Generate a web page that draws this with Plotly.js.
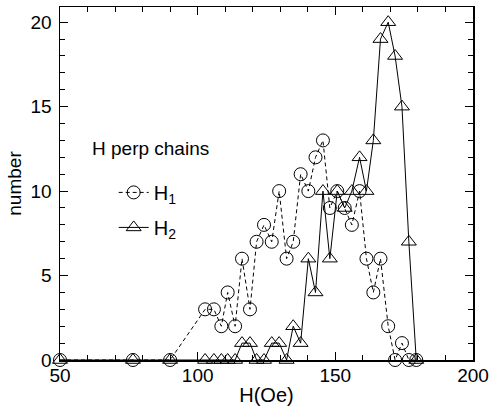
<!DOCTYPE html>
<html>
<head>
<meta charset="utf-8">
<script src="https://cdn.plot.ly/plotly-3.0.1.min.js"></script>
<style>html,body{margin:0;padding:0;background:#fff;}#chart{width:492px;height:407px;}</style>
</head>
<body>
<div id="chart"></div>
<script>
// Magnetic field H (Oe)
const hField = [50, 76.5, 90, 102.7, 105.9, 108.6, 110.9, 113.6, 116.1, 119, 121.4, 124.1, 126.9, 129.6, 132.3, 134.7, 137.4, 140.2, 142.8, 145.5, 148, 150.7, 153.4, 156, 158.8, 161.3, 163.8, 166.4, 169.2, 171.7, 174.2, 176.7, 179.4];
// H1 counts (circles, dashed)
const h1Counts = [0, 0, 0, 3, 3, 2, 4, 2, 6, 3, 7, 8, 7, 10, 6, 7, 11, 10, 12, 13, 9, 10, 9, 8, 10, 6, 4, 6, 2, 0, 1, 0, 0];
// H2 counts (triangles, solid)
const h2Counts = [0, 0, 0, 0, 0, 0, 0, 0, 1, 1, 0, 0, 1, 1, 0, 2, 1, 6, 4, 10, 6, 10, 9, 10, 12, 10, 13, 19, 20, 18, 15, 7, 0];

const xTicks = [50, 100, 150, 200];
const yTicks = [0, 5, 10, 15, 20];

const fontFam = 'Liberation Sans, Arial, sans-serif';

const traces = [
  {
    x: hField, y: h1Counts, name: 'H<sub>1</sub>', type: 'scatter', mode: 'lines+markers',
    legendgroup: 'g1',
    line: {color: '#000', width: 1, dash: '4px,3px'},
    marker: {symbol: 'circle-open', size: 13, color: '#000', line: {width: 1, color: '#000'}},
    cliponaxis: false
  },
  {
    x: hField, y: h2Counts, name: 'H<sub>2</sub>', type: 'scatter', mode: 'lines+markers',
    legendgroup: 'g2',
    line: {color: '#000', width: 1},
    marker: {symbol: 'triangle-up-open', size: 13, color: '#000', line: {width: 1, color: '#000'}},
    cliponaxis: false
  }
];

const layout = {
  width: 492, height: 407,
  margin: {l: 60, r: 19, t: 7, b: 47},
  paper_bgcolor: '#fff', plot_bgcolor: '#fff',
  font: {family: fontFam, color: '#000', size: 18},
  showlegend: true,
  legend: {x: 0.13, y: 0.53, xanchor: 'left', yanchor: 'top', bgcolor: 'rgba(0,0,0,0)', font: {size: 20, family: fontFam}, tracegroupgap: 6},
  xaxis: {
    range: [50, 200], tickvals: xTicks, ticktext: xTicks.map(String),
    ticks: 'inside', ticklen: 8, tickwidth: 1, tickcolor: '#000',
    minor: {dtick: 10, ticks: 'inside', ticklen: 5, tickwidth: 1, tickcolor: '#000'},
    showline: true, linecolor: '#000', linewidth: 1.5, mirror: 'ticks',
    showgrid: false, zeroline: false,
    tickfont: {size: 19}, ticklabelstandoff: -2,
    title: {text: 'H(Oe)', font: {size: 20}, standoff: 2}
  },
  yaxis: {
    range: [0, 20.9], tickvals: yTicks, ticktext: yTicks.map(String),
    ticks: 'inside', ticklen: 8, tickwidth: 1, tickcolor: '#000',
    minor: {dtick: 1, ticks: 'inside', ticklen: 5, tickwidth: 1, tickcolor: '#000'},
    showline: true, linecolor: '#000', linewidth: 1.5, mirror: 'ticks',
    showgrid: false, zeroline: false,
    tickfont: {size: 19}, ticklabelstandoff: 3,
    title: {text: 'number', font: {size: 19}, standoff: 4}
  },
  annotations: [
    {x: 60.8, y: 12.5, xref: 'x', yref: 'y', text: 'H perp chains', showarrow: false, xanchor: 'left', yanchor: 'middle', font: {size: 19}}
  ]
};

Plotly.newPlot('chart', traces, layout, {displayModeBar: false, staticPlot: true});
</script>
</body>
</html>
